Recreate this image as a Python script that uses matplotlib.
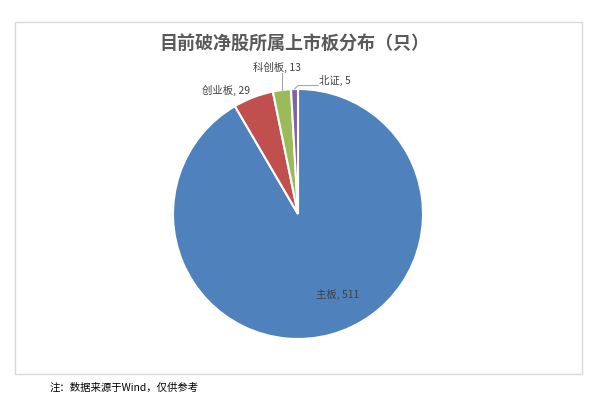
import numpy as np
import matplotlib
matplotlib.use("Agg")
import matplotlib.pyplot as plt
from matplotlib.patches import Rectangle

plt.rcParams['font.family'] = ['Noto Sans CJK SC', 'DejaVu Sans']

# 数据
boards = ["主板", "创业板", "科创板", "北证"]
counts = [511, 29, 13, 5]
colors = ["#4F81BD", "#C0504D", "#9BBB59", "#8064A2"]

title = "目前破净股所属上市板分布（只）"
note = "注：数据来源于Wind，仅供参考"

W, H = 600, 404
fig = plt.figure(figsize=(W / 100, H / 100), dpi=100)
fig.patch.set_facecolor("white")

# 外框
fig.patches.append(Rectangle((15 / W, 1 - 374 / H), 567 / W, 352 / H,
                             transform=fig.transFigure, fill=False,
                             edgecolor="#D9D9D9", linewidth=1.0))

# 饼图, 圆心 (298, 214), 半径 125 px
cx, cy, r = 298, 214, 125
ax = fig.add_axes([(cx - r) / W, 1 - (cy + r) / H, 2 * r / W, 2 * r / H])
wedges, _ = ax.pie(counts, colors=colors, startangle=90, counterclock=False,
                   radius=1, wedgeprops=dict(edgecolor="white", linewidth=1.5))
ax.set_xlim(-1, 1)
ax.set_ylim(-1, 1)
ax.axis("off")

def mid_point(w, rr=1.0):
    a = np.deg2rad((w.theta1 + w.theta2) / 2)
    return rr * np.cos(a), rr * np.sin(a)

lab = dict(fontsize=7.5, color="#404040")
ax.text(0.32, -0.64, f"{boards[0]}, {counts[0]}", ha="center", va="center", **lab)
ax.text(-0.576, 0.99, f"{boards[1]}, {counts[1]}", ha="center", va="center", **lab)

# 科创板 引线
x0, y0 = mid_point(wedges[2])
ax.plot([x0, x0], [y0, 1.13], color="#A6A6A6", lw=0.8, clip_on=False)
ax.text(-0.165, 1.13, f"{boards[2]}, {counts[2]}", ha="center", va="bottom", **lab)

# 北证 引线
x1, y1 = mid_point(wedges[3])
ax.plot([x1, 0.0, 0.16], [y1, 1.028, 1.028], color="#A6A6A6", lw=0.8, clip_on=False)
ax.text(0.17, 1.072, f"{boards[3]}, {counts[3]}", ha="left", va="center", **lab)

fig.text(294.5 / W, 1 - 43 / H, title, ha="center", va="center",
         fontsize=13, fontweight="bold", color="#595959")
fig.text(50 / W, 1 - 388 / H, note, ha="left", va="center",
         fontsize=7.5, color="black")

fig.savefig("out.png", dpi=100, facecolor="white")
